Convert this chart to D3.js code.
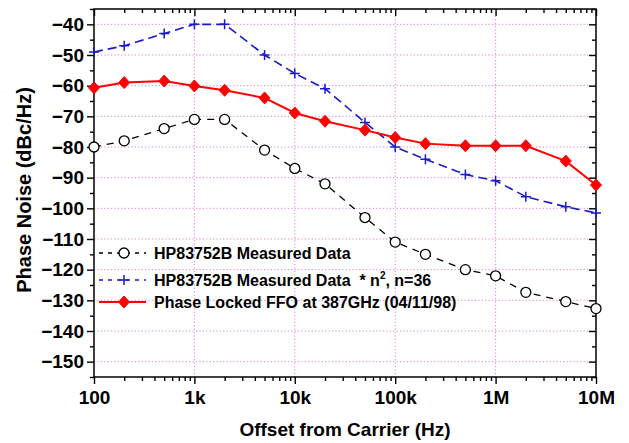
<!DOCTYPE html>
<meta charset="utf-8">
<style>
    body { margin: 0; background: #fff; }
    svg text { font-family: "Liberation Sans", Arial, sans-serif; font-weight: bold; fill: #000; }
    .grid line { stroke: #e47ce4; stroke-width: 1; stroke-dasharray: 1.2, 2.2; }
    .axis path, .axis line { stroke: #000; stroke-width: 1.4; }
</style>
<svg width="629" height="443"></svg>
<script src="https://cdn.jsdelivr.net/npm/d3@7"></script>
<script>

    var offsets = [100, 200, 500, 1e3, 2e3, 5e3, 1e4, 2e4, 5e4, 1e5, 2e5, 5e5, 1e6, 2e6, 5e6, 1e7];
    var hpMeasured = [-80, -78, -74, -71, -71, -81, -87, -92, -103, -111, -115, -120, -122, -127.4, -130.4, -132.7];
    var hpScaled = [-49, -47, -43, -40, -40, -50, -56, -61, -72, -80, -84, -89, -91, -96.2, -99.5, -101.5];
    var ffoLocked = [-60.7, -59, -58.5, -60.1, -61.5, -64, -68.9, -71.6, -74.5, -76.9, -78.9, -79.6, -79.6, -79.6, -84.6, -92.4];

    var xTicks = [100, 1e3, 1e4, 1e5, 1e6, 1e7];
    var xTickLabels = ["100", "1k", "10k", "100k", "1M", "10M"];
    var yTicks = [-150, -140, -130, -120, -110, -100, -90, -80, -70, -60, -50, -40];

    var svg = d3.select("svg"),
        pLeft = 94, pRight = 596, pTop = 9, pBottom = 377;

    var x = d3.scaleLog().domain([100, 1e7]).range([pLeft, pRight]);
    var y = d3.scaleLinear().domain([-155, -35]).range([pBottom, pTop]);

    var xMinor = [];
    xTicks.slice(0, -1).forEach(function (d) {
        for (var k = 2; k <= 9; k++) xMinor.push(d * k);
    });
    var yMinor = d3.range(-155, -34, 10);

    // grid
    var grid = svg.append("g").attr("class", "grid");
    grid.selectAll(".gx")
        .data(xTicks.slice(1, -1))
        .enter().append("line")
        .attr("x1", function (d) { return x(d); })
        .attr("x2", function (d) { return x(d); })
        .attr("y1", pTop).attr("y2", pBottom);
    grid.selectAll(".gy")
        .data(yTicks)
        .enter().append("line")
        .attr("x1", pLeft).attr("x2", pRight)
        .attr("y1", function (d) { return y(d); })
        .attr("y2", function (d) { return y(d); });

    // axes
    var fmt = function (d) { return xTickLabels[xTicks.indexOf(d)]; };

    svg.append("g").attr("class", "axis")
        .attr("transform", "translate(0," + pBottom + ")")
        .call(d3.axisBottom(x).tickValues(xMinor).tickSize(4).tickFormat(""));
    svg.append("g").attr("class", "axis")
        .attr("transform", "translate(0," + pBottom + ")")
        .call(d3.axisBottom(x).tickValues(xTicks).tickSize(7).tickPadding(7).tickFormat(fmt))
        .selectAll("text").attr("font-size", 19);

    svg.append("g").attr("class", "axis")
        .attr("transform", "translate(0," + pTop + ")")
        .call(d3.axisBottom(x).tickValues(xMinor).tickSize(4).tickFormat(""));
    svg.append("g").attr("class", "axis")
        .attr("transform", "translate(0," + pTop + ")")
        .call(d3.axisBottom(x).tickValues(xTicks).tickSize(7).tickFormat(""));

    svg.append("g").attr("class", "axis")
        .attr("transform", "translate(" + pLeft + ",0)")
        .call(d3.axisLeft(y).tickValues(yMinor).tickSize(4).tickFormat(""));
    svg.append("g").attr("class", "axis")
        .attr("transform", "translate(" + pLeft + ",0)")
        .call(d3.axisLeft(y).tickValues(yTicks).tickSize(7).tickPadding(3).tickFormat(d3.format("d")))
        .selectAll("text").attr("font-size", 19);

    svg.append("g").attr("class", "axis")
        .attr("transform", "translate(" + pRight + ",0)")
        .call(d3.axisLeft(y).tickValues(yMinor).tickSize(4).tickFormat(""));
    svg.append("g").attr("class", "axis")
        .attr("transform", "translate(" + pRight + ",0)")
        .call(d3.axisLeft(y).tickValues(yTicks).tickSize(7).tickFormat(""));

    svg.selectAll(".axis path.domain").remove();
    svg.append("rect")
        .attr("x", pLeft).attr("y", pTop)
        .attr("width", pRight - pLeft).attr("height", pBottom - pTop)
        .attr("fill", "none").attr("stroke", "#000").attr("stroke-width", 1.5);

    // axis titles
    svg.append("text")
        .attr("x", (pLeft + pRight) / 2).attr("y", 436)
        .attr("text-anchor", "middle").attr("font-size", 19)
        .text("Offset from Carrier (Hz)");
    svg.append("text")
        .attr("transform", "translate(31," + ((pTop + pBottom) / 2 - 3) + ") rotate(-90)")
        .attr("text-anchor", "middle").attr("font-size", 20)
        .text("Phase Noise (dBc/Hz)");

    // series
    var line = d3.line()
        .x(function (d) { return x(d[0]); })
        .y(function (d) { return y(d[1]); });

    var series = [
        { name: "HP83752B Measured Data", values: hpMeasured, color: "#000", dash: "7,6", width: 1.3, marker: "circle" },
        { name: "HP83752B Measured Data", values: hpScaled, color: "#1a1acc", dash: "9,5", width: 1.6, marker: "cross" },
        { name: "Phase Locked FFO at 387GHz (04/11/98)", values: ffoLocked, color: "#f00", dash: null, width: 2, marker: "diamond" }
    ];

    function drawMarker(g, s, px, py) {
        if (s.marker === "circle") {
            g.append("circle").attr("cx", px).attr("cy", py).attr("r", 5)
                .attr("fill", "#fff").attr("stroke", "#000").attr("stroke-width", 1.3);
        } else if (s.marker === "cross") {
            g.append("path").attr("d", "M" + (px - 5) + "," + py + "h10M" + px + "," + (py - 5) + "v10")
                .attr("stroke", s.color).attr("stroke-width", 1.5).attr("fill", "none");
        } else {
            g.append("path").attr("d", "M" + px + "," + (py - 6) + "l5.5,6l-5.5,6l-5.5,-6z")
                .attr("fill", s.color).attr("stroke", s.color).attr("stroke-width", 1);
        }
    }

    series.forEach(function (s) {
        var pts = offsets.map(function (o, i) { return [o, s.values[i]]; });
        var g = svg.append("g");
        g.append("path")
            .datum(pts)
            .attr("d", line)
            .attr("fill", "none")
            .attr("stroke", s.color)
            .attr("stroke-width", s.width)
            .attr("stroke-dasharray", s.dash);
        pts.forEach(function (p) { drawMarker(g, s, x(p[0]), y(p[1])); });
    });

    // legend
    var legendY = [253, 280, 302];
    series.forEach(function (s, i) {
        var g = svg.append("g");
        var ly = legendY[i];
        g.append("line")
            .attr("x1", 99).attr("x2", 146).attr("y1", ly).attr("y2", ly)
            .attr("stroke", s.color).attr("stroke-width", s.width)
            .attr("stroke-dasharray", s.dash ? "4,5" : null);
        drawMarker(g, s, 124, ly);
        var t = g.append("text")
            .attr("x", 154).attr("y", ly).attr("dy", "0.36em")
            .attr("font-size", 16)
            .text(s.name);
        if (i === 1) {
            t.append("tspan").attr("xml:space", "preserve").text("\u00a0 * n");
            t.append("tspan").attr("font-size", 10).attr("dy", "-0.7em").text("2");
            t.append("tspan").attr("dy", "0.45em").text(", n=36");
        }
    });

</script>
